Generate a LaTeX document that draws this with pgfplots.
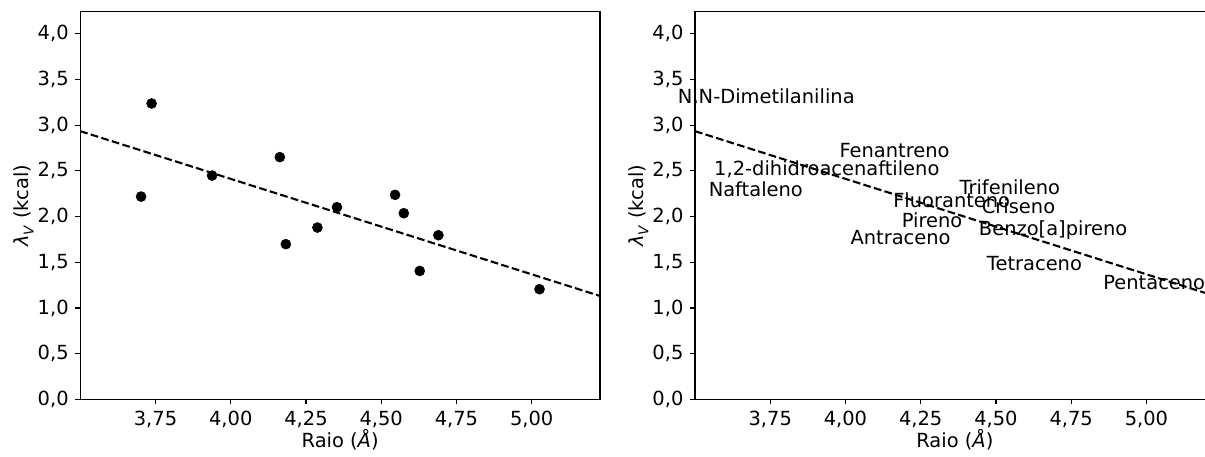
\documentclass[border=0pt]{standalone}
\usepackage{fontspec}
\setmainfont{DejaVu Sans}
\usepackage{pgfplots}
\pgfplotsset{compat=1.18}
\usepackage{pgfplotstable}

\pgfplotstableread{
x y label
3.737 3.238 N,N-Dimetilanilina
3.702 2.219 Naftaleno
3.938 2.449 1,2-dihidroacenaftileno
4.163 2.651 Fenantreno
4.183 1.698 Antraceno
4.288 1.880 Pireno
4.353 2.103 Fluoranteno
4.546 2.238 Trifenileno
4.575 2.037 Criseno
4.628 1.405 Tetraceno
4.690 1.796 Benzo[a]pireno
5.026 1.205 Pentaceno
}\datapts

\pgfplotstableread{
x y
3.5 2.935
5.227 1.131
}\fitline

\pgfplotsset{
  myaxis/.style={
    scale only axis, width=374.2pt, height=278.9pt,
    xmin=3.5, xmax=5.227, ymin=0, ymax=4.24,
    xtick={3.75,4,4.25,4.5,4.75,5},
    ytick={0,0.5,1,1.5,2,2.5,3,3.5,4},
    /pgf/number format/assume math mode=true,
    xticklabel style={/pgf/number format/.cd, fixed, fixed zerofill, precision=2, use comma, 1000 sep={}},
    yticklabel style={/pgf/number format/.cd, fixed, fixed zerofill, precision=1, use comma, 1000 sep={}},
    tick align=outside, tick pos=left,
    major tick length=3.5pt,
    every tick/.style={black, line width=0.8pt},
    axis line style={line width=0.8pt},
    xlabel={Raio (\textit{Å})},
    ylabel={\textit{λ}\raisebox{-0.25em}{\fontsize{9.8}{10}\selectfont\textit{V}} (kcal)},
    xlabel style={at={(axis description cs:0.5,-0.1255)}, anchor=base, inner sep=0pt},
    ylabel style={at={(axis description cs:-0.099,0.5)}, anchor=base, inner sep=0pt},
    font=\fontsize{14}{16.8}\selectfont,
    ticklabel style={font=\fontsize{14}{16.8}\selectfont},
    label style={font=\fontsize{14}{16.8}\selectfont},
  }
}

\begin{document}
\fontsize{14}{16.8}\selectfont
\begin{tikzpicture}
\begin{axis}[myaxis, at={(0pt,0pt)}, anchor=south west]
\addplot[only marks, mark=*, mark size=3.6pt, black] table[x=x, y=y] {\datapts};
\addplot[black, line width=1.5pt, dash pattern=on 5.55pt off 2.4pt] table[x=x, y=y] {\fitline};
\end{axis}
\begin{axis}[myaxis, at={(442.6pt,0pt)}, anchor=south west, clip=false]
\addplot[black, line width=1.5pt, dash pattern=on 5.55pt off 2.4pt] table[x=x, y=y] {\fitline};
\addplot[draw=none, mark=none, nodes near coords, point meta=explicit symbolic,
  every node near coord/.append style={anchor=base, inner sep=0pt, font=\fontsize{14}{16.8}\selectfont, black}]
  table[x=x, y=y, meta=label] {\datapts};
\end{axis}
\pgfresetboundingbox
\path[use as bounding box] (-57.8pt,-41.5pt) rectangle (809.8pt,287.5pt);
\end{tikzpicture}
\end{document}
